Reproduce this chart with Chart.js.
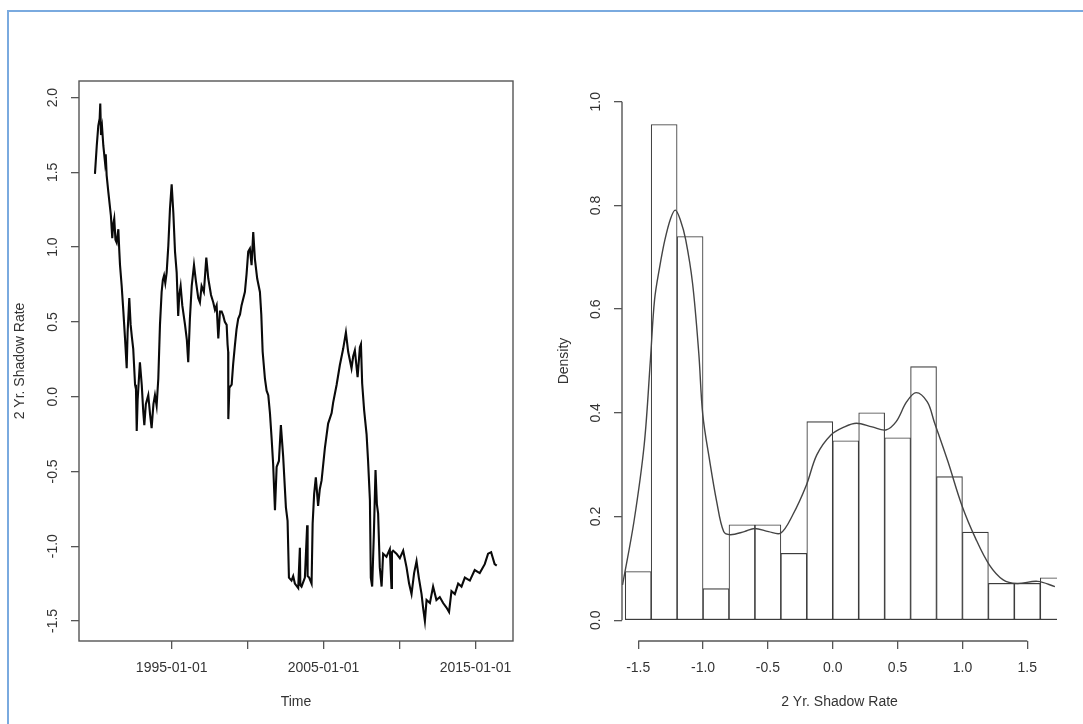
<!DOCTYPE html>
<html>
<head>
<meta charset="utf-8">
<script src="https://cdn.jsdelivr.net/npm/chart.js@4.4.1/dist/chart.umd.min.js"></script>
<style>
  html, body { margin: 0; padding: 0; background: #fff; }
  body { width: 1083px; height: 724px; position: relative; overflow: hidden; }
  #frame { position: absolute; left: 7px; top: 10px; width: 1200px; height: 800px;
           border-left: 2px solid #7aaadf; border-top: 2px solid #7aaadf; }
  canvas { position: absolute; top: 0; }
  #ts { left: 0; }
  #hist { left: 541px; }
</style>
</head>
<body>
<div id="frame"></div>
<canvas id="ts" width="541" height="724"></canvas>
<canvas id="hist" width="542" height="724"></canvas>
<script>
// left panel: the 2 yr shadow rate over time
const years = [
    1989.95, 1990.07, 1990.17, 1990.26, 1990.30, 1990.35, 1990.42, 1990.50, 1990.61, 1990.66,
    1990.72, 1990.83, 1991.00, 1991.09, 1991.15, 1991.22, 1991.30, 1991.38, 1991.49, 1991.55,
    1991.60, 1991.71, 1991.82, 1991.93, 1992.04, 1992.10, 1992.21, 1992.30, 1992.38, 1992.47,
    1992.59, 1992.65, 1992.70, 1992.76, 1992.91, 1993.03, 1993.13, 1993.20, 1993.30, 1993.46,
    1993.58, 1993.68, 1993.80, 1993.90, 1994.01, 1994.12, 1994.23, 1994.34, 1994.42, 1994.50,
    1994.58, 1994.67, 1994.78, 1994.89, 1995.00, 1995.11, 1995.22, 1995.33, 1995.43, 1995.50,
    1995.59, 1995.70, 1995.88, 1996.00, 1996.09, 1996.20, 1996.32, 1996.47, 1996.60, 1996.75,
    1996.86, 1996.97, 1997.12, 1997.28, 1997.41, 1997.59, 1997.74, 1997.85, 1997.96, 1998.07,
    1998.18, 1998.29, 1998.40, 1998.50, 1998.62, 1998.68, 1998.72, 1998.73, 1998.80, 1998.95,
    1999.05, 1999.16, 1999.27, 1999.38, 1999.50, 1999.60, 1999.82, 1999.93, 2000.04, 2000.15,
    2000.26, 2000.37, 2000.48, 2000.63, 2000.81, 2000.90, 2000.99, 2001.14, 2001.25, 2001.36,
    2001.47, 2001.58, 2001.68, 2001.80, 2001.91, 2002.06, 2002.19, 2002.34, 2002.52, 2002.63,
    2002.72, 2002.89, 2003.00, 2003.11, 2003.33, 2003.44, 2003.47, 2003.55, 2003.77, 2003.92,
    2003.95, 2004.05, 2004.21, 2004.28, 2004.38, 2004.49, 2004.64, 2004.75, 2004.87, 2004.98,
    2005.09, 2005.30, 2005.53, 2005.63, 2005.86, 2006.07, 2006.29, 2006.47, 2006.62, 2006.84,
    2006.95, 2007.06, 2007.24, 2007.39, 2007.46, 2007.54, 2007.67, 2007.83, 2007.93, 2008.05,
    2008.11, 2008.20, 2008.31, 2008.42, 2008.51, 2008.59, 2008.70, 2008.82, 2008.92, 2009.14,
    2009.36, 2009.47, 2009.50, 2009.58, 2009.80, 2010.02, 2010.24, 2010.46, 2010.63, 2010.79,
    2010.96, 2011.12, 2011.27, 2011.45, 2011.55, 2011.67, 2011.78, 2012.00, 2012.21, 2012.43,
    2012.65, 2012.87, 2013.09, 2013.26, 2013.42, 2013.64, 2013.86, 2014.08, 2014.30, 2014.63,
    2014.95, 2015.28, 2015.61, 2015.83, 2016.03, 2016.26, 2016.40
];
const shadowRate = [
    1.49, 1.68, 1.81, 1.86, 1.96, 1.75, 1.80, 1.68, 1.57, 1.62,
    1.48, 1.37, 1.21, 1.06, 1.15, 1.19, 1.05, 1.03, 1.12, 0.98,
    0.88, 0.74, 0.57, 0.39, 0.19, 0.43, 0.66, 0.48, 0.40, 0.32,
    0.08, 0.05, -0.23, -0.02, 0.23, 0.08, -0.10, -0.19, -0.05, 0.01,
    -0.12, -0.21, -0.05, 0.01, -0.06, 0.12, 0.48, 0.70, 0.78, 0.81,
    0.76, 0.83, 1.01, 1.26, 1.42, 1.23, 0.97, 0.83, 0.54, 0.68,
    0.74, 0.61, 0.48, 0.38, 0.23, 0.52, 0.74, 0.88, 0.77, 0.66,
    0.63, 0.74, 0.70, 0.93, 0.79, 0.68, 0.63, 0.58, 0.61, 0.39,
    0.57, 0.57, 0.54, 0.50, 0.48, 0.35, 0.30, -0.15, 0.06, 0.08,
    0.22, 0.34, 0.45, 0.52, 0.55, 0.61, 0.70, 0.82, 0.97, 0.99,
    0.88, 1.10, 0.92, 0.79, 0.70, 0.55, 0.30, 0.12, 0.04, 0.01,
    -0.11, -0.28, -0.45, -0.76, -0.47, -0.43, -0.19, -0.40, -0.74, -0.83,
    -1.21, -1.23, -1.20, -1.25, -1.28, -1.01, -1.26, -1.27, -1.21, -0.86,
    -1.20, -1.21, -1.25, -0.85, -0.65, -0.54, -0.73, -0.62, -0.56, -0.45,
    -0.34, -0.18, -0.11, -0.04, 0.08, 0.21, 0.32, 0.43, 0.30, 0.19,
    0.27, 0.31, 0.13, 0.33, 0.35, 0.09, -0.09, -0.25, -0.43, -0.69,
    -1.21, -1.27, -0.92, -0.49, -0.72, -0.78, -1.14, -1.27, -1.05, -1.07,
    -1.02, -1.28, -1.04, -1.03, -1.05, -1.08, -1.03, -1.14, -1.25, -1.32,
    -1.18, -1.10, -1.21, -1.32, -1.41, -1.50, -1.36, -1.38, -1.27, -1.36,
    -1.34, -1.38, -1.41, -1.44, -1.30, -1.32, -1.25, -1.27, -1.21, -1.23,
    -1.16, -1.18, -1.12, -1.05, -1.04, -1.12, -1.13
];
const timeTicks = [1995, 2000, 2005, 2010, 2015];
const timeTickLabels = ["1995-01-01", "", "2005-01-01", "", "2015-01-01"];
const rateTicks = [-1.5, -1.0, -0.5, 0.0, 0.5, 1.0, 1.5, 2.0];

// right panel: histogram (bins of 0.2) and kernel density
const binMids = [-1.5, -1.3, -1.1, -0.9, -0.7, -0.5, -0.3, -0.1, 0.1, 0.3, 0.5, 0.7, 0.9, 1.1, 1.3, 1.5, 1.7];
const binDensity = [0.094, 0.956, 0.740, 0.061, 0.184, 0.184, 0.129, 0.383, 0.346, 0.400, 0.352, 0.489, 0.277, 0.170, 0.071, 0.071, 0.082];
const kdeX = [
    -1.621, -1.533, -1.454, -1.406, -1.374, -1.334, -1.294, -1.25, -1.214, -1.175,
    -1.134, -1.081, -1.033, -1.002, -0.948, -0.895, -0.841, -0.788, -0.682, -0.602,
    -0.495, -0.402, -0.309, -0.203, -0.123, -0.016, 0.090, 0.183, 0.303, 0.409,
    0.489, 0.569, 0.643, 0.729, 0.782, 0.888, 0.995, 1.101, 1.207, 1.314,
    1.421, 1.580, 1.713
];
const kdeY = [
    0.068, 0.190, 0.338, 0.502, 0.618, 0.682, 0.734, 0.775, 0.791, 0.772,
    0.734, 0.650, 0.515, 0.396, 0.306, 0.229, 0.171, 0.165, 0.171, 0.177,
    0.171, 0.168, 0.203, 0.261, 0.319, 0.357, 0.373, 0.380, 0.373, 0.367,
    0.383, 0.421, 0.439, 0.421, 0.383, 0.306, 0.222, 0.158, 0.107, 0.078,
    0.071, 0.075, 0.065
];
const densityTicks = [0, 0.2, 0.4, 0.6, 0.8, 1.0];
const shadowTicks = [-1.5, -1.0, -0.5, 0, 0.5, 1.0, 1.5];

const ink = "#333";
const axisGrey = "#555";
const fontFamily = '"Liberation Sans", Arial, sans-serif';
const fontSize = 14;

Chart.defaults.font.family = fontFamily;
Chart.defaults.font.size = fontSize;
Chart.defaults.color = ink;
Chart.defaults.animation = false;

const setTicks = values => scale => {
    scale.ticks = values.map(value => ({value}));
};

const tickGrid = {drawOnChartArea: false, tickLength: 8, color: axisGrey, lineWidth: 1.3};
const noPlugins = {legend: {display: false}, tooltip: {enabled: false}};

// R writes the y tick labels turned on their side
const sideLabels = values => ({
    id: "sideLabels",
    afterDraw(chart) {
        const {ctx, chartArea, scales: {y}} = chart;
        ctx.save();
        ctx.fillStyle = ink;
        ctx.font = `${fontSize}px ${fontFamily}`;
        ctx.textAlign = "center";
        ctx.textBaseline = "middle";
        values.forEach(v => {
            ctx.save();
            ctx.translate(chartArea.left - 26, y.getPixelForValue(v));
            ctx.rotate(-Math.PI / 2);
            ctx.fillText(v.toFixed(1), 0, 0);
            ctx.restore();
        });
        ctx.restore();
    }
});

const plotBox = {
    id: "plotBox",
    afterDraw(chart) {
        const {ctx, chartArea: a} = chart;
        ctx.save();
        ctx.strokeStyle = axisGrey;
        ctx.lineWidth = 1.4;
        ctx.strokeRect(a.left, a.top, a.right - a.left, a.bottom - a.top);
        ctx.restore();
    }
};

// hist() axes only run from first to last tick
const histAxes = {
    id: "histAxes",
    afterDraw(chart) {
        const {ctx, chartArea: a, scales: {x, y}} = chart;
        ctx.save();
        ctx.strokeStyle = axisGrey;
        ctx.lineWidth = 1.4;
        ctx.beginPath();
        ctx.moveTo(x.getPixelForValue(shadowTicks[0]), a.bottom);
        ctx.lineTo(x.getPixelForValue(shadowTicks[shadowTicks.length - 1]), a.bottom);
        ctx.moveTo(a.left, y.getPixelForValue(densityTicks[0]));
        ctx.lineTo(a.left, y.getPixelForValue(densityTicks[densityTicks.length - 1]));
        ctx.stroke();
        ctx.restore();
    }
};

new Chart(document.getElementById("ts"), {
    type: "line",
    data: {
        datasets: [{
            data: years.map((x, i) => ({x, y: shadowRate[i]})),
            borderColor: "#0a0a0a",
            borderWidth: 2.1,
            pointRadius: 0,
            tension: 0
        }]
    },
    options: {
        responsive: false,
        layout: {padding: {left: 0, right: 28, top: 81, bottom: 0}},
        plugins: noPlugins,
        scales: {
            x: {
                type: "linear",
                min: 1988.9,
                max: 2017.47,
                afterBuildTicks: setTicks(timeTicks),
                afterFit: s => { s.height = 83; },
                grid: tickGrid,
                border: {display: false},
                ticks: {autoSkip: false, maxRotation: 0, padding: 11, callback: (v, i) => timeTickLabels[i]},
                title: {display: true, text: "Time", padding: {top: 0, bottom: 13}}
            },
            y: {
                min: -1.634,
                max: 2.111,
                afterBuildTicks: setTicks(rateTicks),
                afterFit: s => { s.width = 79; },
                grid: tickGrid,
                border: {display: false},
                ticks: {display: false},
                title: {display: true, text: "2 Yr. Shadow Rate", padding: {top: 12, bottom: 0}}
            }
        }
    },
    plugins: [plotBox, sideLabels(rateTicks)]
});

new Chart(document.getElementById("hist"), {
    type: "bar",
    data: {
        datasets: [{
            type: "bar",
            data: binMids.map((x, i) => ({x, y: binDensity[i]})),
            backgroundColor: "#fff",
            borderColor: "#3c3c3c",
            borderWidth: 1.1,
            borderSkipped: false,
            barPercentage: 1,
            categoryPercentage: 1,
            order: 1
        }, {
            type: "line",
            data: kdeX.map((x, i) => ({x, y: kdeY[i]})),
            borderColor: "#444",
            borderWidth: 1.4,
            pointRadius: 0,
            tension: 0.35,
            order: 0
        }]
    },
    options: {
        responsive: false,
        layout: {padding: {left: 0, right: 26, top: 81, bottom: 0}},
        plugins: noPlugins,
        scales: {
            x: {
                type: "linear",
                offset: false,
                min: -1.625,
                max: 1.729,
                afterBuildTicks: setTicks(shadowTicks),
                afterFit: s => { s.height = 83; },
                grid: {...tickGrid, offset: false},
                border: {display: false},
                ticks: {autoSkip: false, maxRotation: 0, padding: 11, callback: v => v.toFixed(1)},
                title: {display: true, text: "2 Yr. Shadow Rate", padding: {top: 0, bottom: 13}}
            },
            y: {
                min: -0.04,
                max: 1.04,
                afterBuildTicks: setTicks(densityTicks),
                afterFit: s => { s.width = 81; },
                grid: tickGrid,
                border: {display: false},
                ticks: {display: false},
                title: {display: true, text: "Density", padding: {top: 15, bottom: 0}}
            }
        }
    },
    plugins: [histAxes, sideLabels(densityTicks)]
});
</script>
</body>
</html>
